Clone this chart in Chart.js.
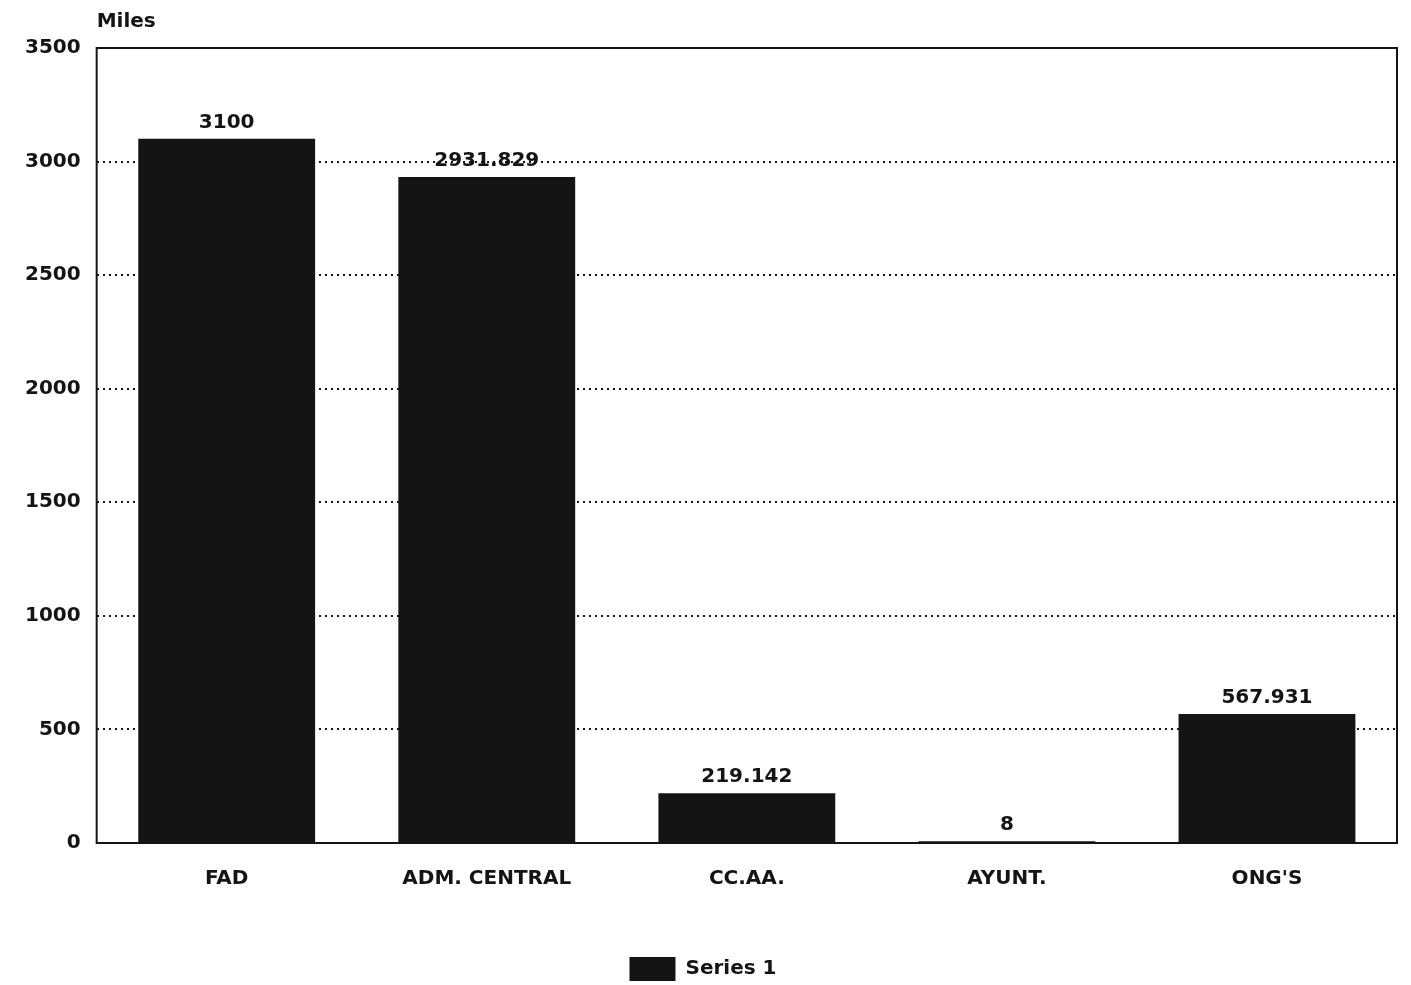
<!DOCTYPE html>
<html>
<head>
<meta charset="utf-8">
<script src="https://cdn.jsdelivr.net/npm/chart.js@4.4.1/dist/chart.umd.min.js"></script>
<style>
  html, body { margin: 0; padding: 0; background: #fff; }
  #wrap { width: 1411px; height: 985px; }
</style>
</head>
<body>
<div id="wrap"><canvas id="barChart" width="1411" height="985"></canvas></div>
<script>
let categories = ["FAD", "ADM. CENTRAL", "CC.AA.", "AYUNT.", "ONG'S"];
let values = [3100, 2931.829, 219.142, 8, 567.931];
let yTicks = [0, 500, 1000, 1500, 2000, 2500, 3000, 3500];
let seriesName = "Series 1";
let unitLabel = "Miles";

const FONT = "'DejaVu Sans', 'Liberation Sans', sans-serif";
const INK = "#141414";

// frame round the plot area, unit label and value labels
const extras = {
    id: "extras",
    beforeDatasetsDraw(chart) {
        let a = chart.chartArea, ctx = chart.ctx;
        ctx.save();
        ctx.strokeStyle = INK;
        ctx.lineWidth = 2;
        ctx.strokeRect(a.left, a.top, a.right - a.left, a.bottom - a.top);
        ctx.restore();
    },
    afterDatasetsDraw(chart) {
        let ctx = chart.ctx, a = chart.chartArea;
        ctx.save();
        ctx.fillStyle = INK;
        ctx.font = "bold 20px " + FONT;
        ctx.textAlign = "left";
        ctx.textBaseline = "middle";
        ctx.fillText(unitLabel, a.left, 22);

        ctx.textAlign = "center";
        ctx.textBaseline = "bottom";
        chart.getDatasetMeta(0).data.forEach((bar, i) => {
            ctx.fillText(String(values[i]), bar.x, bar.y - 6);
        });
        ctx.restore();
    }
};

new Chart(document.getElementById("barChart"), {
    type: "bar",
    data: {
        labels: categories,
        datasets: [{
            label: seriesName,
            data: values,
            backgroundColor: INK,
            borderWidth: 0,
            categoryPercentage: 0.68,
            barPercentage: 1.0
        }]
    },
    options: {
        responsive: false,
        animation: false,
        layout: { padding: { left: 9, right: 14, top: 48, bottom: -6 } },
        plugins: {
            legend: {
                position: "bottom",
                labels: {
                    color: INK,
                    font: { family: FONT, size: 20, weight: "bold" },
                    boxWidth: 46,
                    boxHeight: 24,
                    padding: 0
                }
            },
            tooltip: { enabled: false }
        },
        scales: {
            x: {
                grid: { display: false, drawTicks: false },
                border: { display: false },
                afterFit(scale) { scale.height = 114; },
                ticks: {
                    color: INK,
                    padding: 24,
                    font: { family: FONT, size: 20, weight: "bold" }
                }
            },
            y: {
                min: 0,
                max: 3500,
                afterBuildTicks(scale) {
                    scale.ticks = yTicks.map(v => ({ value: v }));
                },
                grid: {
                    color: INK,
                    lineWidth: 2,
                    drawTicks: false
                },
                border: { display: false, dash: [2, 4] },
                ticks: {
                    color: INK,
                    padding: 16,
                    callback: v => String(v),
                    font: { family: FONT, size: 20, weight: "bold" }
                }
            }
        }
    },
    plugins: [extras]
});
</script>
</body>
</html>
